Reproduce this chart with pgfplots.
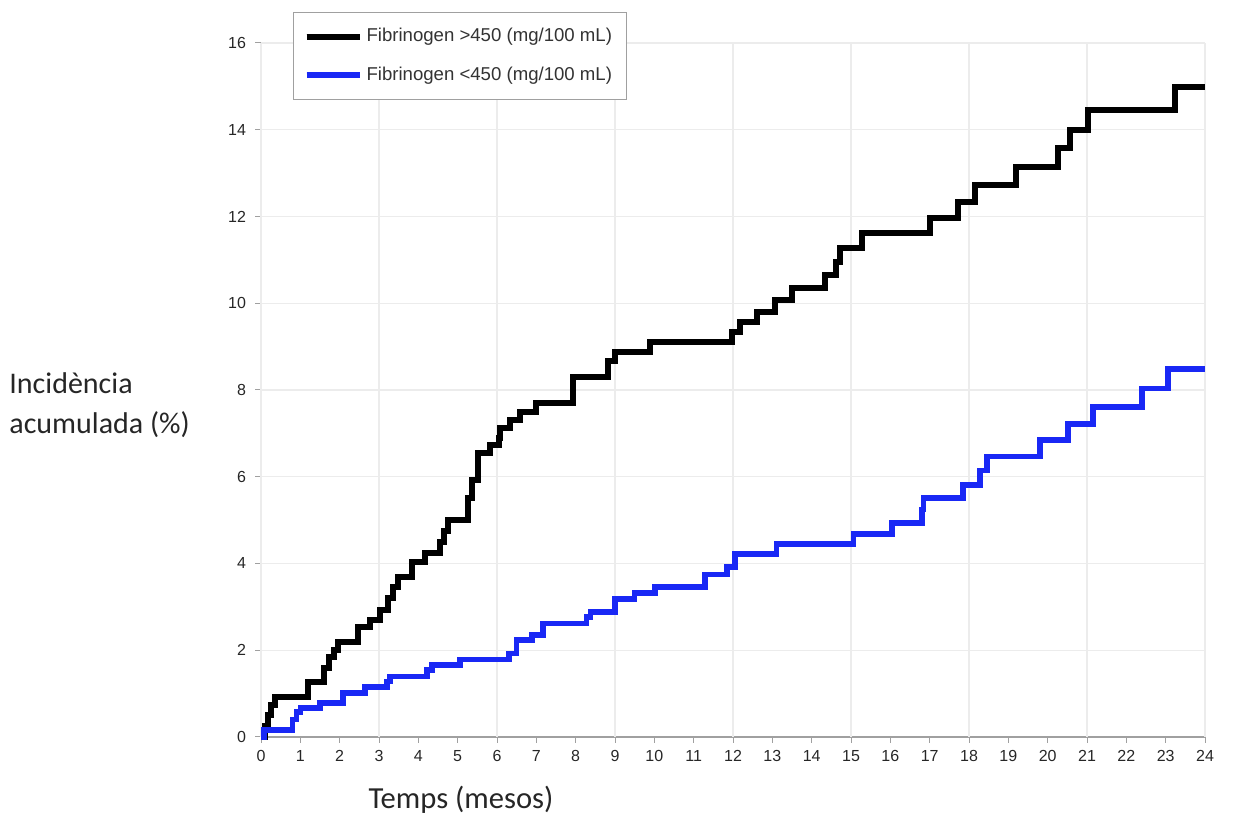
\documentclass[border=0pt]{standalone}
\usepackage{fontspec}
\setmainfont{Liberation Sans}
\newfontfamily\carlito{Carlito}
\usepackage{pgfplots}
\pgfplotsset{compat=1.18}
\definecolor{kmblue}{RGB}{25,40,245}
\definecolor{gridgray}{RGB}{236,236,236}
\definecolor{axgray}{RGB}{160,160,160}
\begin{document}
\begin{tikzpicture}
\useasboundingbox (-130.5pt,-40pt) rectangle (486.5pt,368.5pt);
\begin{axis}[
  at={(0,0)}, anchor=south west,
  scale only axis, width=472pt, height=347pt,
  xmin=0, xmax=24, ymin=0, ymax=16,
  axis lines*=left,
  axis line style={draw=axgray, line width=0.6pt},
  xtick={0,1,...,24}, ytick={0,2,...,16},
  tick align=outside, major tick length=3pt,
  tick style={draw=axgray, line width=0.5pt},
  ymajorgrids, grid style={draw=gridgray, line width=0.6pt},
  extra x ticks={0,3,...,24}, extra x tick labels={},
  extra x tick style={grid=major, major tick length=0pt},
  /pgf/number format/assume math mode=true,
  tick label style={font=\fontsize{8}{9}\selectfont, text=black!85},
  yticklabel style={xshift=-1pt},
  legend style={at={(axis description cs:0.0339,1.0447)}, anchor=north west,
    draw=axgray, line width=0.5pt, fill=white, font=\fontsize{9.3}{10}\selectfont,
    text=black!80, inner xsep=5pt, inner ysep=6pt, row sep=7pt,
    nodes={inner sep=2pt}},
  legend cell align=left,
  legend image code/.code={\draw[#1, line width=2.5pt] (0pt,0pt) -- (21pt,0pt);
    \path (0pt,0pt) -- (26.5pt,0pt);},
  clip=false,
]
\addplot[const plot, black, line width=3pt, line join=miter] coordinates {
(0,0) (0.1,0.25) (0.18,0.5) (0.25,0.74) (0.36,0.92) (1.2,1.27) (1.6,1.6)
(1.72,1.85) (1.85,2.0) (1.95,2.19) (2.47,2.54) (2.77,2.7) (3.03,2.93)
(3.23,3.2) (3.35,3.45) (3.48,3.69) (3.84,4.03) (4.17,4.24) (4.55,4.5)
(4.65,4.75) (4.76,5.0) (5.27,5.5) (5.36,5.92) (5.52,6.55) (5.82,6.73)
(6.04,6.9) (6.08,7.12) (6.33,7.3) (6.58,7.49) (7.0,7.7) (7.93,8.3)
(8.82,8.67) (9.0,8.88) (9.9,9.1) (11.97,9.33) (12.18,9.57) (12.6,9.8)
(13.07,10.07) (13.5,10.35) (14.34,10.65) (14.62,10.95) (14.72,11.27)
(15.28,11.62) (17.0,11.97) (17.72,12.33) (18.15,12.72) (19.2,13.14)
(20.27,13.57) (20.57,13.99) (21.03,14.45) (23.24,14.98) (24,14.98)
};
\addlegendentry{Fibrinogen >450 (mg/100 mL)}
\addplot[const plot, kmblue, line width=2.7pt, line join=miter] coordinates {
(0,0) (0.08,0.16) (0.74,0.16) (0.8,0.4) (0.9,0.58) (1.0,0.67) (1.5,0.78)
(2.08,1.01) (2.64,1.15) (3.2,1.28) (3.28,1.4) (4.22,1.54) (4.35,1.66)
(5.06,1.78) (6.3,1.93) (6.5,2.24) (6.89,2.35) (7.17,2.62) (8.28,2.77)
(8.37,2.88) (9.0,3.18) (9.5,3.32) (10.02,3.46) (11.29,3.75) (11.85,3.92)
(12.05,4.22) (13.1,4.45) (15.06,4.68) (16.04,4.93) (16.8,5.25) (16.85,5.51)
(17.85,5.81) (18.28,6.15) (18.46,6.46) (19.8,6.85) (20.52,7.22)
(21.15,7.61) (22.4,8.04) (23.06,8.48) (24,8.48)
};
\addlegendentry{Fibrinogen <450 (mg/100 mL)}
\end{axis}
\node[anchor=west, align=left, inner sep=0pt, font=\carlito\fontsize{15}{20}\selectfont, text=black!85] at (-126pt,166pt) {Incidència\\acumulada (\%)};
\node[font=\carlito\fontsize{15.3}{17}\selectfont, text=black!85] at (100pt,-31.5pt) {Temps (mesos)};
\end{tikzpicture}
\end{document}
